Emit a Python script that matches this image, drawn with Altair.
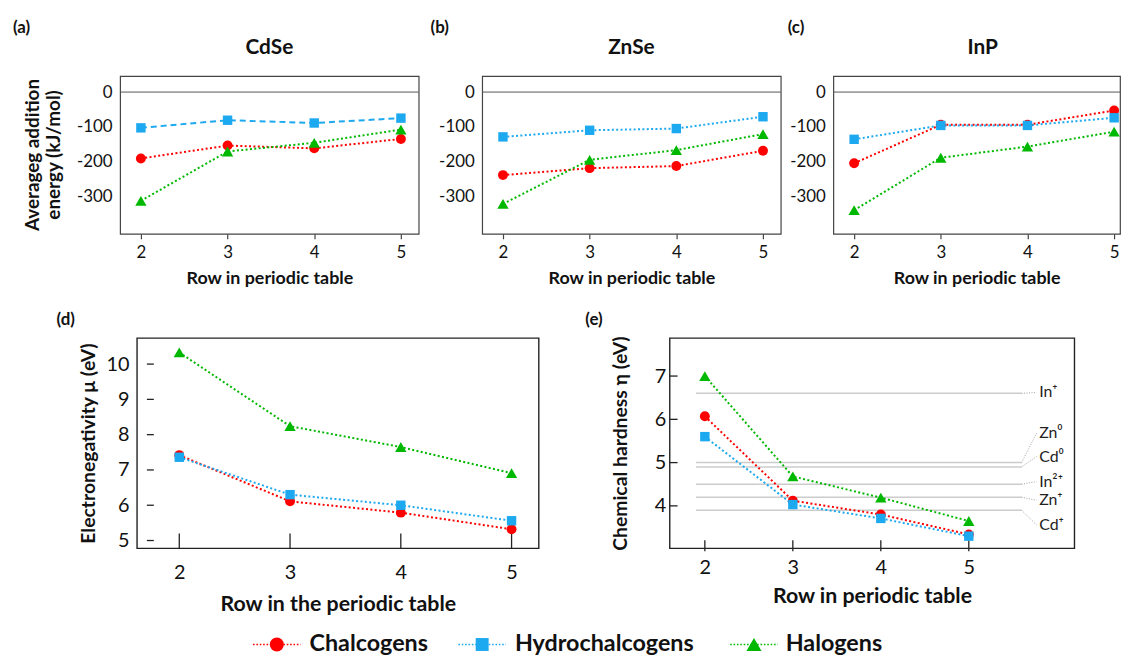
import altair as alt
import pandas as pd
import numpy as np

# ---------------- data ----------------
ROWS = [2, 3, 4, 5]
SERIES = ["Chalcogens", "Hydrochalcogens", "Halogens"]
COLORS = ["#FF0000", "#1DA9F0", "#00B800"]

CDSE_CHALC = [-191, -154, -162, -135]
CDSE_HYDRO = [-103, -81, -89, -75]
CDSE_HALOG = [-313, -171, -146, -108]

ZNSE_CHALC = [-239, -219, -213, -169]
ZNSE_HYDRO = [-129, -110, -105, -71]
ZNSE_HALOG = [-322, -195, -167, -121]

INP_CHALC = [-205, -94, -94, -53]
INP_HYDRO = [-136, -96, -96, -74]
INP_HALOG = [-340, -189, -157, -114]

EN_CHALC = [7.42, 6.11, 5.79, 5.32]
EN_HYDRO = [7.36, 6.30, 6.00, 5.56]
EN_HALOG = [10.33, 8.24, 7.65, 6.91]

HD_CHALC = [6.07, 4.12, 3.80, 3.34]
HD_HYDRO = [5.60, 4.03, 3.71, 3.30]
HD_HALOG = [7.00, 4.68, 4.19, 3.65]

LEVEL_LABELS = ["In⁺", "Zn⁰", "Cd⁰", "In²⁺", "Zn⁺", "Cd⁺"]
LEVEL_VALUES = [6.6, 5.0, 4.9, 4.5, 4.2, 3.9]
LEVEL_LABEL_Y = [6.62, 5.68, 5.14, 4.56, 4.13, 3.56]

TOP_Y_TICKS = [0, -100, -200, -300]
EN_TICKS = [5, 6, 7, 8, 9, 10]
HD_TICKS = [4, 5, 6, 7]

YTITLE_A = ["Averageg addition", "energy (kJ/mol)"]

FONT = "Lato"
TXT = "#111111"
SHAPES = ["circle", "square", "triangle-up"]
SIZES = [100, 90, 130]

# legend layout (pixels, relative to the bottom row's left edge / top edge)
LEG_CENTER_X = [158, 365, 639]
LEG_TEXT_X = [191, 398, 671]
LEG_Y = 309
LEG_HALF = 24
LEG_SIZES = [200, 170, 230]


def long_df(chalc, hydro, halog, dashed=None):
    recs = []
    for s, vals in zip(SERIES, [chalc, hydro, halog]):
        for r, v in zip(ROWS, vals):
            recs.append({"row": r, "value": v, "series": s,
                         "style": "dashed" if s == dashed else "dotted"})
    return pd.DataFrame(recs)


color = alt.Color("series:N", scale=alt.Scale(domain=SERIES, range=COLORS), legend=None)
dash = alt.StrokeDash("style:N", scale=alt.Scale(domain=["dotted", "dashed"], range=[[2, 2.4], [6, 4]]), legend=None)


def text_layer(txt, dx, dy, size=17, align="left", angle=0):
    return alt.Chart(pd.DataFrame({"t": [txt]})).mark_text(
        align=align, baseline="middle", fontSize=size, fontWeight="bold", font=FONT, color=TXT, angle=angle
    ).encode(x=alt.value(dx), y=alt.value(dy), text="t:N")


def series_layers(df, X, Y):
    layers = [alt.Chart(df).mark_line(strokeWidth=2).encode(x=X, y=Y, color=color, strokeDash=dash,
                                                            detail="series:N")]
    for s, shp, sz in zip(SERIES, SHAPES, SIZES):
        layers.append(alt.Chart(df).transform_filter(alt.datum.series == s).mark_point(
            filled=True, opacity=1, shape=shp, size=sz).encode(x=X, y=Y, color=color))
    return layers


TOP_W, TOP_H = 301, 159


def top_panel(title, chalc, hydro, halog, width, xmax, letter, letter_x, ytitle=None, dashed=None):
    df = long_df(chalc, hydro, halog, dashed)
    xs = alt.Scale(domain=[1.76, xmax], nice=False, zero=False)
    ys = alt.Scale(domain=[-408, 46], nice=False, zero=False)
    x_axis = alt.Axis(values=ROWS, format="d", title="Row in periodic table", grid=False, domain=False,
                      ticks=True, tickSize=5, tickColor="#444", tickWidth=1.2,
                      labelFontSize=17, labelPadding=14, labelBaseline="middle",
                      titleFontSize=18, titleFontWeight="bold", titleY=45.5, titleBaseline="middle")
    y_axis = alt.Axis(values=TOP_Y_TICKS, labelExpr="datum.value + ''", grid=False, domain=False,
                      ticks=False, labelFontSize=17, labelPadding=8, title=None)
    X = alt.X("row:Q", scale=xs, axis=x_axis)
    Y = alt.Y("value:Q", scale=ys, axis=y_axis)
    zero = alt.Chart(pd.DataFrame({"value": [0]})).mark_rule(color="#555", strokeWidth=1).encode(y=Y)
    layers = [zero, *series_layers(df, X, Y),
              text_layer(letter, letter_x, -48),
              text_layer(title, TOP_W / 2, -28, size=21, align="center")]
    if ytitle:
        layers.append(text_layer(ytitle[0], -88, TOP_H / 2, size=19, align="center", angle=270))
        layers.append(text_layer(ytitle[1], -67, TOP_H / 2, size=19, align="center", angle=270))
    return alt.layer(*layers).properties(width=width, height=TOP_H,
                                         view=alt.ViewBackground(stroke="#444", strokeWidth=1.2))


BOT_H = 212


def bottom_axes(xdom, ydom, yticks, xtitle, ytitle, xlabpad, xtitle_y, ylabpad):
    xs = alt.Scale(domain=xdom, nice=False, zero=False)
    ys = alt.Scale(domain=ydom, nice=False, zero=False)
    x_axis = alt.Axis(values=ROWS, format="d", title=xtitle, grid=False, domain=False, ticks=False,
                      labelFontSize=20, labelPadding=xlabpad, labelBaseline="middle",
                      titleFontSize=21.5, titleFontWeight="bold", titleY=xtitle_y, titleBaseline="middle")
    y_axis = alt.Axis(values=yticks, format="d", title=ytitle, grid=False, domain=False, ticks=False,
                      labelFontSize=20, labelPadding=ylabpad,
                      titleFontSize=19.5, titleFontWeight="bold", titleX=-49, titleY=BOT_H / 2,
                      titleBaseline="middle")
    return alt.X("row:Q", scale=xs, axis=x_axis), alt.Y("value:Q", scale=ys, axis=y_axis)


# ---- (a)-(c)
pa = top_panel("CdSe", CDSE_CHALC, CDSE_HYDRO, CDSE_HALOG, TOP_W, 5.205, "(a)", -108,
               ytitle=YTITLE_A, dashed="Hydrochalcogens")
pb = top_panel("ZnSe", ZNSE_CHALC, ZNSE_HYDRO, ZNSE_HALOG, TOP_W, 5.205, "(b)", -52)
pc = top_panel("InP", INP_CHALC, INP_HYDRO, INP_HALOG, 289, 5.068, "(c)", -46)

# ---- (d)
D_W = 405
Xd, Yd = bottom_axes([1.618, 5.245], [4.78, 10.74], EN_TICKS, "Row in the periodic table",
                     "Electronegativity μ (eV)", 24, 56.5, 8)
dfd = long_df(EN_CHALC, EN_HYDRO, EN_HALOG)
xt_d = alt.Chart(pd.DataFrame({"row": ROWS})).mark_rule(color="#222", strokeWidth=1.3).encode(
    x=Xd, y=alt.value(BOT_H - 15), y2=alt.value(BOT_H))
yt_d = alt.Chart(pd.DataFrame({"value": EN_TICKS})).mark_rule(color="#222", strokeWidth=1.3).encode(
    y=Yd, x=alt.value(10), x2=alt.value(17))
pdd = alt.layer(xt_d, yt_d, *series_layers(dfd, Xd, Yd), text_layer("(d)", -81, -18.5)).properties(
    width=D_W, height=BOT_H, view=alt.ViewBackground(stroke="#222", strokeWidth=1.4))

# ---- (e)
E_W = 408
Xe, Ye = bottom_axes([1.6, 6.2], [3.02, 7.88], HD_TICKS, "Row in periodic table",
                     "Chemical hardness η (eV)", 19.3, 49, 4)
dfe = long_df(HD_CHALC, HD_HYDRO, HD_HALOG)
lev = pd.DataFrame({"label": LEVEL_LABELS, "value": LEVEL_VALUES, "label_y": LEVEL_LABEL_Y})
lev_lines = alt.Chart(lev).mark_rule(color="#cccccc", strokeWidth=1.5).encode(
    x=alt.datum(1.9), x2=alt.datum(5.6), y=Ye)
lev_conn = alt.Chart(lev).mark_rule(color="#8a8a8a", strokeWidth=0.8, strokeDash=[1, 1.5]).encode(
    x=alt.datum(5.6), x2=alt.datum(5.77), y=Ye, y2=alt.Y2("label_y:Q"))
lev_text = alt.Chart(lev).mark_text(align="left", baseline="middle", fontSize=16,
                                    font="Lato, DejaVu Sans", color="#222").encode(
    x=alt.datum(5.8), y=alt.Y("label_y:Q", scale=alt.Scale(domain=[3.02, 7.88], nice=False, zero=False)),
    text="label:N")
xt_e = alt.Chart(pd.DataFrame({"row": ROWS})).mark_rule(color="#222", strokeWidth=1.3).encode(
    x=Xe, y=alt.value(BOT_H - 8), y2=alt.value(BOT_H + 3))
yt_e = alt.Chart(pd.DataFrame({"value": HD_TICKS})).mark_rule(color="#222", strokeWidth=1.3).encode(
    y=Ye, x=alt.value(0), x2=alt.value(8))
pe_ = alt.layer(lev_lines, lev_conn, lev_text, xt_e, yt_e, *series_layers(dfe, Xe, Ye),
                text_layer("(e)", -85, -18.5)).properties(
    width=E_W, height=BOT_H, view=alt.ViewBackground(stroke="#222", strokeWidth=1.4))

# ---- legend: dotted line + marker + bold label for each series
leg_layers = []
for s, c, shp, sz, cx, tx in zip(SERIES, COLORS, SHAPES, LEG_SIZES, LEG_CENTER_X, LEG_TEXT_X):
    one = pd.DataFrame({"series": [s]})
    leg_layers.append(alt.Chart(one).mark_rule(color=c, strokeWidth=1.6, strokeDash=[1.6, 1.8]).encode(
        x=alt.value(cx - LEG_HALF), x2=alt.value(cx + LEG_HALF), y=alt.value(LEG_Y)))
    leg_layers.append(alt.Chart(one).mark_point(filled=True, opacity=1, shape=shp, size=sz, color=c).encode(
        x=alt.value(cx), y=alt.value(LEG_Y)))
    leg_layers.append(alt.Chart(one).mark_text(align="left", baseline="middle", fontSize=23.5,
                                               fontWeight="bold", font=FONT, color=TXT).encode(
        x=alt.value(tx), y=alt.value(LEG_Y), text="series:N"))
legend_chart = alt.layer(*leg_layers).properties(width=17, height=1)


def spacer(w, h=1):
    return alt.Chart(pd.DataFrame({"s": [0]})).mark_point(opacity=0).properties(width=w, height=h)


row1 = alt.hconcat(pa, spacer(64), pb, spacer(53), pc, spacing=0, bounds="flush")
row2 = alt.hconcat(legend_chart, pdd, spacer(132), pe_, spacing=0, bounds="flush")

# nested rows count with zero height under flush bounds, so the row offset is top height + gap
chart = alt.vconcat(row1, row2, spacing=TOP_H + 105, bounds="flush").properties(
    padding={"left": 4, "top": 8, "right": 0, "bottom": 4}
).configure_view(stroke=None).configure_axis(
    labelFont=FONT, titleFont=FONT, labelColor=TXT, titleColor=TXT
).configure_text(font=FONT)

chart.save("out.html", embed_options={"renderer": "svg", "actions": False})
